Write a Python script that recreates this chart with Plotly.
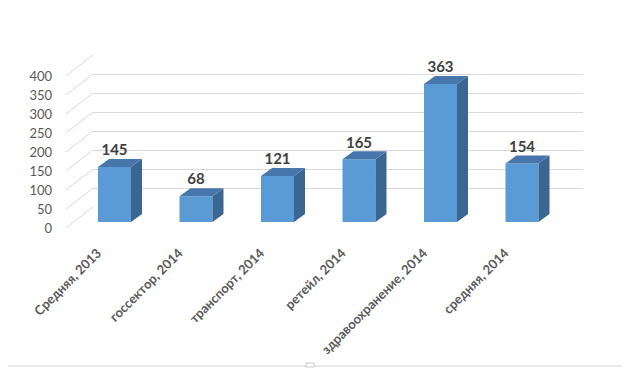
import plotly.graph_objects as go

categories = ["Средняя, 2013", "госсектор, 2014", "транспорт, 2014",
              "ретейл, 2014", "здравоохранение, 2014", "средняя, 2014"]
values = [145, 68, 121, 165, 363, 154]
tick_vals = [0, 50, 100, 150, 200, 250, 300, 350, 400]

W, H = 630, 368
OFF = 8  # page body margin in the browser

def px(p):
    return (p - OFF) / W

def py(p):
    return 1 - (p - OFF) / H

# layout geometry (pixels, in screen coordinates)
BAR_X0, BAR_X1 = 73.75, 562.75
BAR_Y0, BAR_Y1 = 222, 70          # value 0 / 400 on the bar plane
WALL_X0, WALL_X1 = 93, 583
WALL_Y0, WALL_Y1 = 207, 55        # back wall
FRONT_Y0, FRONT_Y1 = 228, 76      # tick label plane
FRONT_X = 66
YMAX = 400

bar_w = 0.405
cat_px = (BAR_X1 - BAR_X0) / len(categories)
dx = 11 / cat_px
dy = 8 / ((BAR_Y0 - BAR_Y1) / YMAX)
label_shift = 17 / cat_px

FONT = "Lato"
FRONT = "#5B9BD5"
TOP = "#4676AB"
SIDE = "#3A6692"

fig = go.Figure()

# invisible traces to materialise wall and label axes
fig.add_trace(go.Scatter(x=[0], y=[0], xaxis="x", yaxis="y", mode="markers",
                         marker=dict(opacity=0), hoverinfo="skip", showlegend=False))
fig.add_trace(go.Scatter(x=[0], y=[0], xaxis="x", yaxis="y3", mode="markers",
                         marker=dict(opacity=0), hoverinfo="skip", showlegend=False))

xs = list(range(len(categories)))
fig.add_trace(go.Bar(x=xs, y=values, width=bar_w, marker=dict(color=FRONT, line=dict(width=0)),
                     xaxis="x2", yaxis="y2", showlegend=False))

sx, sy, tx, ty = [], [], [], []
for i, v in zip(xs, values):
    xl, xr = i - bar_w / 2, i + bar_w / 2
    sx += [xr, xr + dx, xr + dx, xr, xr, None]
    sy += [0, dy, v + dy, v, 0, None]
    tx += [xl, xr, xr + dx, xl + dx, xl, None]
    ty += [v, v, v + dy, v + dy, v, None]

fig.add_trace(go.Scatter(x=sx, y=sy, fill="toself", fillcolor=SIDE, mode="lines",
                         line=dict(width=0, color=SIDE), xaxis="x2", yaxis="y2",
                         hoverinfo="skip", showlegend=False))
fig.add_trace(go.Scatter(x=tx, y=ty, fill="toself", fillcolor=TOP, mode="lines",
                         line=dict(width=0, color=TOP), xaxis="x2", yaxis="y2",
                         hoverinfo="skip", showlegend=False))

fig.add_trace(go.Scatter(x=xs, y=[v + dy for v in values], mode="text",
                         text=[str(v) for v in values], textposition="top center",
                         textfont=dict(family=FONT, size=15, color="#404040", weight="bold"),
                         xaxis="x2", yaxis="y2", cliponaxis=False,
                         hoverinfo="skip", showlegend=False))

shapes = []
for t in tick_vals:
    fy = FRONT_Y0 - (FRONT_Y0 - FRONT_Y1) * t / YMAX
    by = WALL_Y0 - (WALL_Y0 - WALL_Y1) * t / YMAX
    shapes.append(dict(type="line", xref="paper", yref="paper", layer="below",
                       x0=px(FRONT_X), y0=py(fy), x1=px(WALL_X0), y1=py(by),
                       line=dict(color="#D9D9D9", width=1)))

# chart frame bottom edge and selection handles
shapes.append(dict(type="line", xref="paper", yref="paper", x0=0, x1=1,
                   y0=py(366), y1=py(366), line=dict(color="#D4D4D4", width=1)))
shapes.append(dict(type="rect", xref="paper", yref="paper", x0=px(306), x1=px(314),
                   y0=py(367), y1=py(363), line=dict(color="#C8C8C8", width=1), fillcolor="white"))
shapes.append(dict(type="rect", xref="paper", yref="paper", x0=px(626), x1=px(631),
                   y0=py(188), y1=py(178), line=dict(color="#C8C8C8", width=1), fillcolor="white"))

fig.update_layout(
    width=W, height=H,
    margin=dict(l=0, r=0, t=0, b=0, autoexpand=False),
    paper_bgcolor="white", plot_bgcolor="rgba(0,0,0,0)",
    bargap=0.6, shapes=shapes,
    font=dict(family=FONT),
    xaxis=dict(domain=[px(WALL_X0), px(WALL_X1)], range=[0, 1], visible=False, showgrid=False,
               automargin=False),
    yaxis=dict(domain=[py(WALL_Y0), py(WALL_Y1)], range=[0, YMAX], dtick=50,
               showgrid=True, gridcolor="#D9D9D9", gridwidth=1, showticklabels=False,
               zeroline=False, showline=False, ticks="", automargin=False),
    yaxis3=dict(domain=[py(FRONT_Y0), py(FRONT_Y1)], range=[0, YMAX], anchor="free",
                position=px(52), tickvals=tick_vals, showgrid=False, zeroline=False,
                showline=False, ticks="", automargin=False,
                tickfont=dict(family=FONT, size=13, color="#595959")),
    xaxis2=dict(domain=[px(BAR_X0), px(BAR_X1)], range=[-0.5, len(categories) - 0.5],
                anchor="y2", tickvals=[i - label_shift for i in xs], ticktext=categories,
                tickangle=-45,
                showgrid=False, zeroline=False, showline=False, ticks="",
                ticklabelstandoff=20, automargin=False,
                tickfont=dict(family=FONT, size=13, color="#595959", weight="bold")),
    yaxis2=dict(domain=[py(BAR_Y0), py(BAR_Y1)], range=[0, YMAX], anchor="x2",
                visible=False, showgrid=False, automargin=False),
)

fig.write_html("out.html")
